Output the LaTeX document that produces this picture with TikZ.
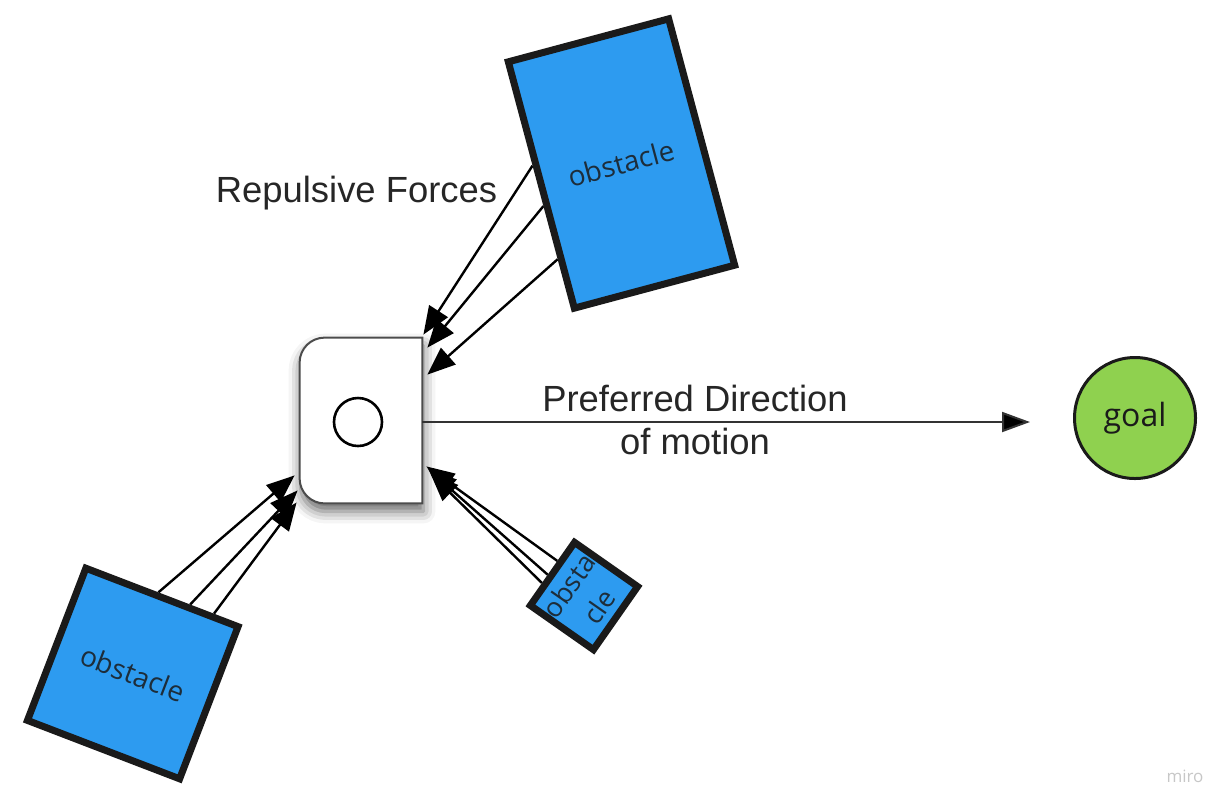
\documentclass[tikz,border=0pt]{standalone}
\usepackage{fontspec}
\setmainfont{Liberation Sans}
\newfontfamily\boardfont{Open Sans}
\usetikzlibrary{arrows.meta,calc,backgrounds,shadows.blur}
\definecolor{obstBlue}{HTML}{2D9BF0}
\definecolor{goalGreen}{HTML}{8FD14F}
\definecolor{edgeDark}{HTML}{1A1A1A}

\begin{document}
\begin{tikzpicture}[x=0.5pt, y=-0.5pt,
  >={Triangle[length=14pt,width=11pt,fill=black]},
  obst/.style={draw=edgeDark, fill=obstBlue, line width=3.5pt, inner sep=0pt, align=center,
    font=\boardfont\fontsize{14}{15}\selectfont, text=edgeDark!85!obstBlue},
  force/.style={->, line width=1.2pt, draw=black},
  lbl/.style={font=\fontsize{18.2}{21.5}\selectfont, text=black!85}]
  \useasboundingbox (0,0) rectangle (1231,811);

  % Nodes
  \node (robot) [minimum width=61pt, minimum height=82.5pt, inner sep=0pt] at (361,420.5) {};
  \draw[line width=1pt, draw=black!70, fill=white,
        blur shadow={shadow xshift=0.5pt, shadow yshift=-4pt, shadow blur radius=6pt, shadow opacity=60}]
    (robot.south east) -- (robot.north east) [rounded corners=12.5pt] -- (robot.north west)
    -- (robot.south west) [sharp corners] -- (robot.south east) -- cycle;
  \node (hub) [circle, draw, line width=1.3pt, minimum size=24pt] at (358,422) {};

  \node (obsTop) [obst, rotate=15, minimum width=83pt, minimum height=127.5pt] at (621.5,163.5) {obstacle};
  \node (obsLeft) [obst, rotate=-21, minimum size=81.5pt] at (132.75,673.5) {obstacle};
  \node (obsSmall) [obst, rotate=55, minimum size=38.5pt, font=\boardfont\fontsize{13.5}{18.5}\selectfont] at (584,596) {obsta\\cle};
  \node (goal) [circle, draw=edgeDark, fill=goalGreen, line width=1.5pt, minimum size=60.5pt,
    font=\boardfont\fontsize{16}{18}\selectfont, text=edgeDark] at (1135,418) {goal};

  \node (repulse) [lbl] at (356.5,193) {Repulsive Forces};
  \node (pref) [lbl, align=center] at (695,420) {Preferred Direction\\of motion};
  \node (brand) [font=\boardfont\fontsize{8.5}{10}\selectfont, text=black!22] at (1185,776) {miro};
  \coordinate (aim) at (1030,422);

  % Arrows
  \draw[->, line width=1pt, draw=black!80, >={Triangle[length=14pt,width=10pt,fill=black]}] (robot.east |- hub) -- (aim);
  \begin{pgfonlayer}{background}
    \draw[force] ($(obsTop.north west)!0.42!(obsTop.south west)$) -- ($(robot.north east)+(1,-3)$);
    \draw[force] ($(obsTop.north west)!0.58!(obsTop.south west)$) -- ($(robot.north east)+(5,10)$);
    \draw[force] ($(obsTop.north west)!0.79!(obsTop.south west)$) -- ($(robot.north east)+(5,37)$);
    \draw[force] ($(obsLeft.north west)!0.47!(obsLeft.north east)$) -- ($(robot.south west)+(-5,-28)$);
    \draw[force] ($(obsLeft.north west)!0.67!(obsLeft.north east)$) -- ($(robot.south west)+(-2,-13)$);
    \draw[force] ($(obsLeft.north west)!0.82!(obsLeft.north east)$) -- ($(robot.south west)+(-3,-1)$);
    \draw[force] ($(obsSmall.north west)!0.66!(obsSmall.north east)$) -- ($(robot.south east)+(4,-37)$);
    \draw[force] ($(obsSmall.north west)!0.46!(obsSmall.north east)$) -- ($(robot.south east)+(6,-34)$);
    \draw[force] ($(obsSmall.north west)!0.34!(obsSmall.north east)$) -- ($(robot.south east)+(8,-30)$);
  \end{pgfonlayer}
\end{tikzpicture}
\end{document}
